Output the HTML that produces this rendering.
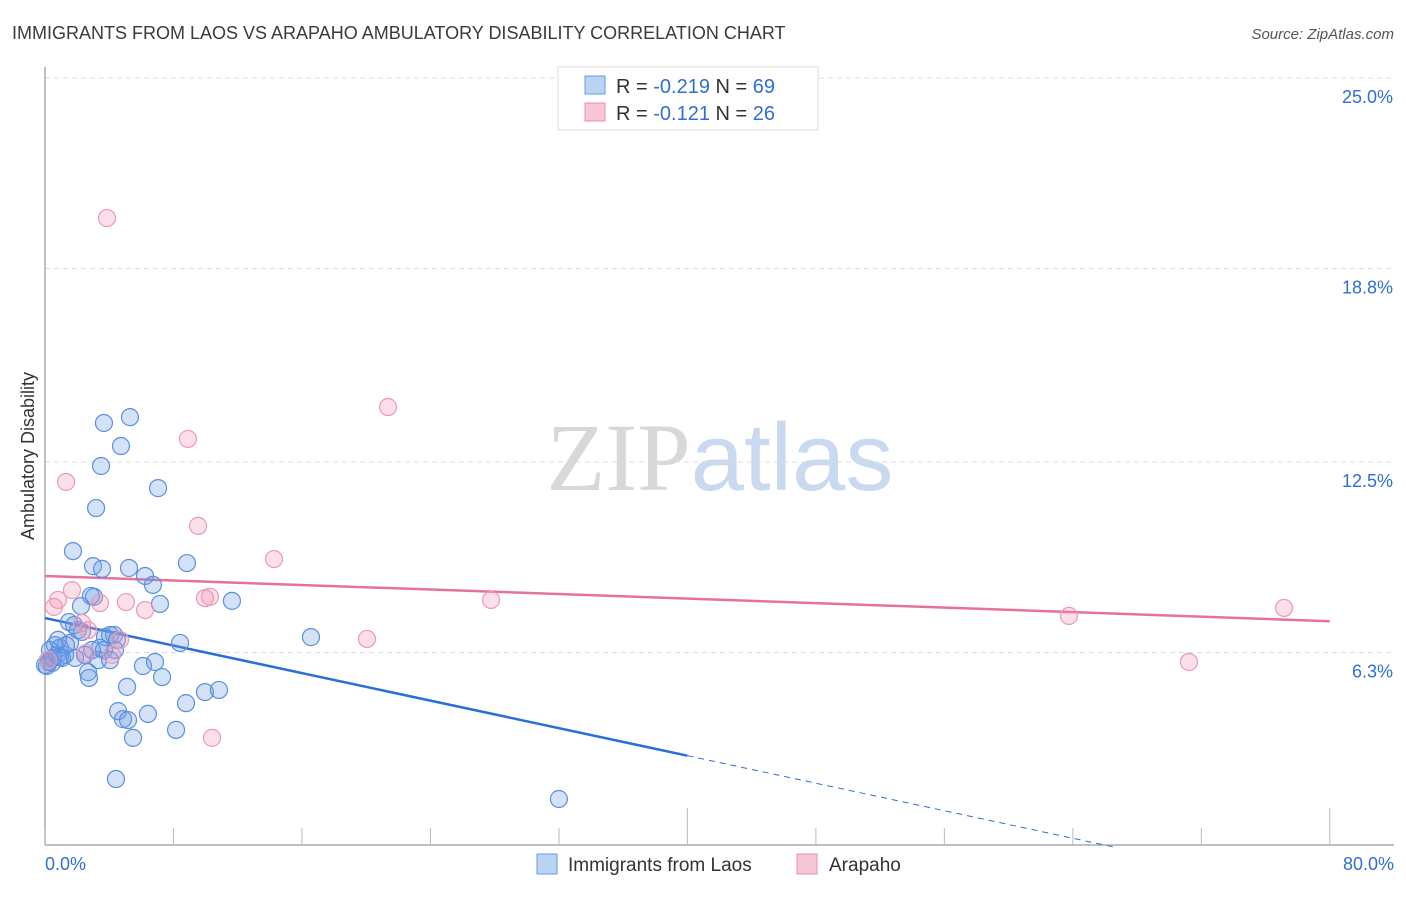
<!DOCTYPE html>
<html><head><meta charset="utf-8"><style>
body{margin:0;background:#fff;font-family:"Liberation Sans",sans-serif}
</style></head><body>
<svg id="chart" width="1406" height="892" xmlns="http://www.w3.org/2000/svg" font-family="Liberation Sans, sans-serif">
<text x="12" y="39" font-size="18" fill="#3a3a3a">IMMIGRANTS FROM LAOS VS ARAPAHO AMBULATORY DISABILITY CORRELATION CHART</text>
<text x="1394" y="39" font-size="15" fill="#555" font-style="italic" text-anchor="end">Source: ZipAtlas.com</text>
<text x="720" y="490" font-size="96" text-anchor="middle"><tspan fill="#d8d8d8" font-family="Liberation Serif, serif">ZIP</tspan><tspan fill="#c9d9ef">atlas</tspan></text>
<text transform="translate(34,456) rotate(-90)" font-size="18" fill="#333" text-anchor="middle">Ambulatory Disability</text>
<g id="grid"></g><g id="axes"></g><g id="trend"></g><g id="pts"></g>
<g>
<rect x="558" y="67" width="260" height="63" fill="#fff" stroke="#ddd"/>
<rect x="585" y="76" width="20" height="18" fill="#b9d3f5" stroke="#6a9ae0"/>
<rect x="585" y="103" width="20" height="18" fill="#f9c6d6" stroke="#e890b0"/>
<text x="616" y="93" font-size="20" fill="#333">R = <tspan fill="#2f6fd6">-0.219</tspan>   N = <tspan fill="#2f6fd6">69</tspan></text>
<text x="616" y="120" font-size="20" fill="#333">R =  <tspan fill="#2f6fd6">-0.121</tspan>   N = <tspan fill="#2f6fd6">26</tspan></text>
</g>
<g>
<rect x="537" y="854" width="20" height="20" fill="#b9d3f5" stroke="#6a9ae0"/>
<text x="568" y="871" font-size="19" fill="#333">Immigrants from Laos</text>
<rect x="797" y="854" width="20" height="20" fill="#f9c6d6" stroke="#e890b0"/>
<text x="829" y="871" font-size="19" fill="#333">Arapaho</text>
</g>
</svg>
<script>
const yTicks=[25.0,18.8,12.5,6.3];
const yTickLabels=["25.0%","18.8%","12.5%","6.3%"];
const xTickLabels=["0.0%","80.0%"];
const blueX=[3.67,5.29,4.73,3.49,7.04,3.18,1.74,2.99,3.55,5.23,8.84,6.23,6.72,3.05,2.86,2.24,7.16,11.64,16.56,8.41,1.49,1.81,2.05,2.30,3.74,4.05,4.30,0.62,0.93,0.31,0.19,0.44,0.75,1.25,1.06,1.56,3.42,3.67,4.36,3.30,4.05,6.10,6.85,7.29,2.68,2.74,5.11,8.78,9.96,10.83,4.55,6.41,4.86,5.17,8.16,5.48,4.42,32.0,0.0,0.12,0.25,0.50,2.49,2.93,0.93,1.31,4.48,1.87,0.81];
const blueY=[13.77,13.96,13.02,12.37,11.65,11.00,9.60,9.11,9.02,9.05,9.21,8.79,8.50,8.11,8.14,7.81,7.88,7.98,6.80,6.61,7.29,7.19,7.03,6.97,6.80,6.87,6.87,6.54,6.45,6.38,6.05,5.96,6.22,6.22,6.12,6.61,6.45,6.38,6.38,6.05,6.05,5.86,5.99,5.50,5.66,5.47,5.18,4.65,5.01,5.08,4.39,4.30,4.13,4.10,3.78,3.52,2.18,1.53,5.89,5.86,5.99,6.12,6.22,6.38,6.15,6.54,6.71,6.12,6.71];
const pinkX=[3.86,21.36,8.90,1.31,9.53,14.26,1.68,0.81,0.56,3.42,5.04,6.23,9.96,10.27,27.77,20.05,2.30,2.55,4.67,4.17,10.40,63.76,77.15,71.23,0.19,2.68];
const pinkY=[20.44,14.29,13.25,11.85,10.42,9.34,8.33,8.01,7.78,7.91,7.94,7.68,8.07,8.11,8.01,6.74,7.26,6.28,6.71,6.22,3.52,7.49,7.75,5.99,6.05,7.03];
const blueTrend=[7.42,-0.112];
const pinkTrend=[8.79,-0.0184];
const NS="http://www.w3.org/2000/svg";
const sx=v=>45+v*16.06, sy=v=>846-v*30.72;
function mk(p,t,a){const e=document.createElementNS(NS,t);for(const k in a)e.setAttribute(k,a[k]);p.appendChild(e);return e;}
const grid=document.getElementById('grid'),axes=document.getElementById('axes');
yTicks.forEach((v,i)=>{
 const l=mk(grid,'line',{x1:45,x2:1394,y1:sy(v),y2:sy(v),stroke:'#ddd','stroke-dasharray':'5,4'});
 
 
 const t=mk(grid,'text',{x:1393,y:sy(v)+25,'font-size':18,fill:'#2f6fd6','text-anchor':'end'});
 t.textContent=yTickLabels[i];
 
 
});
const al=mk(axes,'line',{x1:45,x2:1394,y1:845,y2:845,stroke:'#aaa','stroke-width':1.5});


const yl=mk(axes,'line',{x1:45,x2:45,y1:67,y2:845,stroke:'#aaa','stroke-width':1.5});


for(let i=0;i<=10;i++){const x=sx(i*8);const tk=mk(axes,'line',{x1:x,x2:x,y1:(i==5||i==10)?808:828,y2:845,stroke:'#bbb'});
 
 }
[[0,'start',45],[1,'end',1394]].forEach(([i,a,x])=>{const t=mk(axes,'text',{x:x,y:870,'font-size':18,fill:'#2f6fd6','text-anchor':a});t.textContent=xTickLabels[i];
 
 });
const tr=document.getElementById('trend');
const f=(c,x)=>c[0]+c[1]*x;
const pl=mk(tr,'line',{x1:sx(0),y1:sy(f(pinkTrend,0)),x2:sx(80),y2:sy(f(pinkTrend,80)),stroke:'#e8709a','stroke-width':2.5});


const bl=mk(tr,'line',{x1:sx(0),y1:sy(f(blueTrend,0)),x2:sx(40),y2:sy(f(blueTrend,40)),stroke:'#2a6fd8','stroke-width':2.5});


const xe=-blueTrend[0]/blueTrend[1]+0.5;
const bd=mk(tr,'line',{x1:sx(40),y1:sy(f(blueTrend,40)),x2:sx(xe),y2:sy(f(blueTrend,xe)),stroke:'#2a6fd8','stroke-width':1,'stroke-dasharray':'6,5'});


const pts=document.getElementById('pts');
blueX.forEach((x,i)=>{const c=mk(pts,'circle',{cx:sx(x),cy:sy(blueY[i]),r:8.5,fill:'rgba(110,160,230,0.3)',stroke:'#5b8fe0','stroke-width':1.2});
 
 });
pinkX.forEach((x,i)=>{const c=mk(pts,'circle',{cx:sx(x),cy:sy(pinkY[i]),r:8.5,fill:'rgba(245,150,180,0.3)',stroke:'#eb99b6','stroke-width':1.2});
 
 });
</script>
</body></html>
